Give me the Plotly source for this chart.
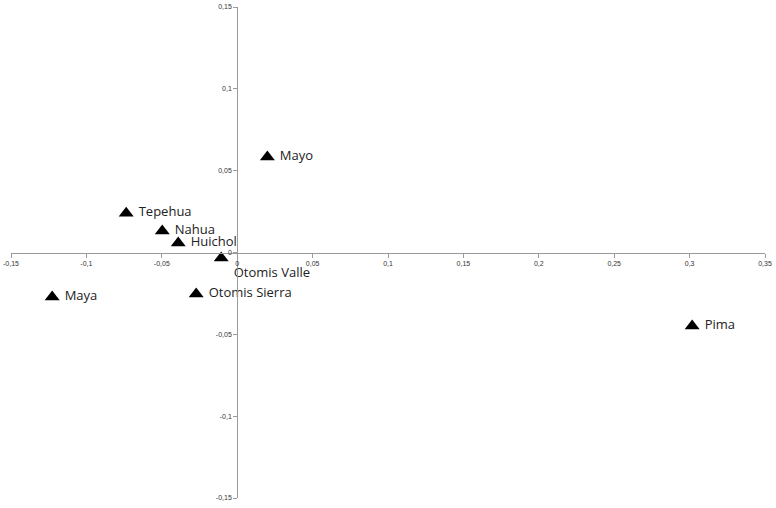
import plotly.graph_objects as go

# Data
groups = ["Mayo", "Tepehua", "Nahua", "Huichol", "Otomis Valle", "Maya", "Otomis Sierra", "Pima"]
dim1 = [0.020, -0.0736, -0.0497, -0.0391, -0.0106, -0.1227, -0.0272, 0.3017]
dim2 = [0.0583, 0.0240, 0.0131, 0.0058, -0.0034, -0.0272, -0.0254, -0.0449]

x_ticks = [-0.15, -0.1, -0.05, 0, 0.05, 0.1, 0.15, 0.2, 0.25, 0.3, 0.35]
x_tick_text = ["-0,15", "-0,1", "-0,05", "0", "0,05", "0,1", "0,15", "0,2", "0,25", "0,3", "0,35"]
y_ticks = [-0.15, -0.1, -0.05, 0, 0.05, 0.1, 0.15]
y_tick_text = ["-0,15", "-0,1", "-0,05", "0", "0,05", "0,1", "0,15"]

text_pos = ["middle right" if g != "Otomis Valle" else "bottom right" for g in groups]

fig = go.Figure(go.Scatter(
    x=dim1, y=dim2, mode="markers+text", text=groups,
    texttemplate=" %{text}",
    textposition=text_pos,
    marker=dict(symbol="triangle-up", size=13, color="black"),
    textfont=dict(family="Open Sans", size=13, color="#222222"),
    cliponaxis=False, showlegend=False, hoverinfo="skip",
))

x_range = [-0.15, 0.35]
y_range = [-0.15, 0.15]
axis_color = "#9a9a9a"
tick_font = dict(family="Liberation Sans", size=7, color="#333333")

fig.update_layout(
    width=776, height=508,
    margin=dict(l=11, r=11, t=7, b=10),
    paper_bgcolor="white", plot_bgcolor="white",
    xaxis=dict(
        range=x_range, domain=[0, 1], anchor="free",
        position=(0 - y_range[0]) / (y_range[1] - y_range[0]),
        tickmode="array", tickvals=x_ticks, ticktext=x_tick_text,
        showgrid=False, zeroline=False, showline=True, linecolor=axis_color, linewidth=1,
        ticks="outside", ticklen=4, tickcolor=axis_color, tickfont=tick_font,
        automargin=False,
    ),
    yaxis=dict(
        range=y_range, domain=[0, 1], anchor="free",
        position=(0 - x_range[0]) / (x_range[1] - x_range[0]),
        tickmode="array", tickvals=y_ticks, ticktext=y_tick_text,
        showgrid=False, zeroline=False, showline=True, linecolor=axis_color, linewidth=1,
        ticks="outside", ticklen=4, tickcolor=axis_color, tickfont=tick_font,
        automargin=False,
    ),
)

fig.write_html("out.html", config={"displayModeBar": False},
               post_script="document.body.style.margin='0';")
